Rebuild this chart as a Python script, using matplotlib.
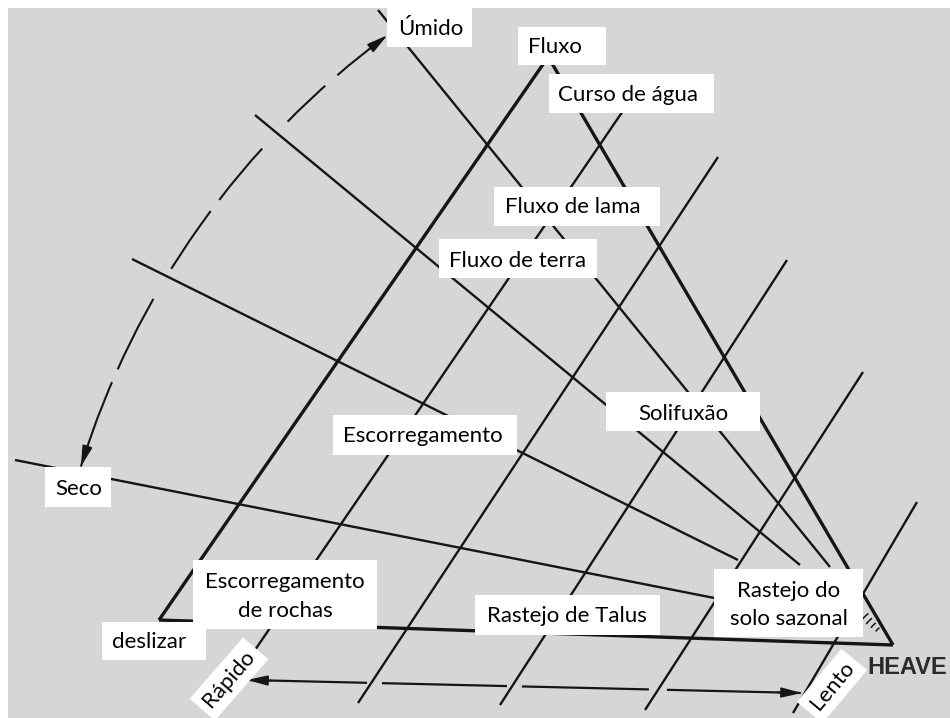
import numpy as np
import matplotlib.pyplot as plt
from matplotlib.patches import Rectangle, Arc

plt.rcParams['font.family'] = ['Lato', 'DejaVu Sans']
plt.rcParams['lines.scale_dashes'] = False

# coordenadas em pixels da figura original (y cresce para baixo)
W, H = 950, 718
cor_fundo = '#d6d6d6'
cor_linha = '#151515'

# lados do triangulo (deslizar - fluxo - heave)
bordas_ini = [(159, 620), (550, 60), (159, 620)]
bordas_fim = [(546, 60), (893, 645), (893, 645)]

# linhas que sobem para a direita
sobe_ini = [(627, 105), (718, 157), (787, 260), (863, 372), (917, 502)]
sobe_fim = [(255, 650), (358, 703), (500, 705), (645, 710), (793, 713)]

# linhas que descem para a direita
desce_ini = [(378, 10), (255, 115), (132, 259), (15, 460)]
desce_fim = [(830, 567), (800, 565), (738, 560), (760, 607)]

# arco tracejado umido <-> seco
centro_arco = (890, 717)
raio_arco = 847
ang_seco, ang_umido = 197.2, 233.6
tracos_arco = [90, 14, 79, 35, 70, 14, 67, 37, 52, 16, 60, 10]

# seta tracejada rapido <-> lento
seta_ini = (247, 680)
seta_fim = (802, 693)
tracos_seta = [120, 15, 125, 15, 127, 18, 134, 10]

# caixas de texto: (x0, y0, x1, y1)
caixas = [(387, 7, 472, 47), (518, 27, 606, 65), (549, 74, 714, 113),
          (494, 187, 660, 226), (439, 239, 597, 278), (606, 392, 760, 431),
          (333, 415, 517, 455), (45, 467, 111, 507), (193, 560, 377, 629),
          (102, 622, 206, 660), (475, 595, 660, 635), (714, 569, 863, 637)]

# textos simples: (texto, x esquerdo, linha de base)
textos = [("Úmido", 398, 35), ("Fluxo", 528, 53), ("Curso de água", 558, 101),
          ("Fluxo de lama", 505, 213), ("Fluxo de terra", 449, 267),
          ("Solifuxão", 638, 420), ("Escorregamento", 343, 442),
          ("Seco", 55, 495), ("deslizar", 112, 648), ("Rastejo de Talus", 487, 622)]

# textos centrados de duas linhas: (texto, x centro, linha de base)
textos_centro = [("Escorregamento", 285, 588), ("de rochas", 285, 617),
                 ("Rastejo do", 789, 597), ("solo sazonal", 789, 625)]

# textos girados: (texto, x, y, angulo)
textos_girados = [("Rápido", 229, 679, 49), ("Lento", 832, 686, 50)]

fig = plt.figure(figsize=(W / 100, H / 100), dpi=100, facecolor='white')
ax = fig.add_axes([0, 0, 1, 1])
ax.set_xlim(0, W)
ax.set_ylim(H, 0)
ax.axis('off')

ax.add_patch(Rectangle((8, 8), W - 8, H - 8, fc=cor_fundo, ec='none', zorder=0))

# linhas
for (x0, y0), (x1, y1) in zip(bordas_ini, bordas_fim):
    ax.plot([x0, x1], [y0, y1], color=cor_linha, lw=2.4, solid_capstyle='butt', zorder=2)
for (x0, y0), (x1, y1) in zip(sobe_ini, sobe_fim):
    ax.plot([x0, x1], [y0, y1], color=cor_linha, lw=1.7, solid_capstyle='butt', zorder=2)
for (x0, y0), (x1, y1) in zip(desce_ini, desce_fim):
    ax.plot([x0, x1], [y0, y1], color=cor_linha, lw=1.7, solid_capstyle='butt', zorder=2)

# marcas perto do vertice heave
for r in [22, 28, 34, 40]:
    ax.add_patch(Arc((893, 645), 2 * r, 2 * r, theta1=218, theta2=232,
                     color=cor_linha, lw=1.1, zorder=2))

# arco tracejado
arco = Arc(centro_arco, 2 * raio_arco, 2 * raio_arco, theta1=ang_seco, theta2=ang_umido,
           color=cor_linha, lw=1.5, zorder=2)
arco.set_linestyle((0, [t * 0.72 for t in tracos_arco]))
ax.add_patch(arco)


def ponto_arco(ang):
    a = np.radians(ang)
    return (centro_arco[0] + raio_arco * np.cos(a), centro_arco[1] + raio_arco * np.sin(a))


estilo_ponta = dict(arrowstyle='-|>,head_length=0.9,head_width=0.22', color=cor_linha,
                    lw=1.2, shrinkA=0, shrinkB=0, mutation_scale=14)
ax.annotate('', xy=ponto_arco(ang_seco), xytext=ponto_arco(ang_seco + 1.5),
            arrowprops=estilo_ponta, zorder=3)
ax.annotate('', xy=ponto_arco(ang_umido), xytext=ponto_arco(ang_umido - 1.5),
            arrowprops=estilo_ponta, zorder=3)

# seta tracejada inferior
ax.plot([seta_ini[0], seta_fim[0]], [seta_ini[1], seta_fim[1]], color=cor_linha, lw=1.6,
        dashes=[t * 0.72 for t in tracos_seta], zorder=2)
ax.annotate('', xy=seta_ini, xytext=(seta_ini[0] + 25, seta_ini[1] + 0.6),
            arrowprops=estilo_ponta, zorder=3)
ax.annotate('', xy=seta_fim, xytext=(seta_fim[0] - 25, seta_fim[1] - 0.6),
            arrowprops=estilo_ponta, zorder=3)

# caixas brancas
for x0, y0, x1, y1 in caixas:
    ax.add_patch(Rectangle((x0, y0), x1 - x0, y1 - y0, fc='white', ec='none', zorder=4))

for txt, x, y in textos:
    ax.text(x, y, txt, fontsize=16, ha='left', va='baseline', color='black', zorder=5)
for txt, x, y in textos_centro:
    ax.text(x, y, txt, fontsize=16, ha='center', va='baseline', color='black', zorder=5)
for txt, x, y, ang in textos_girados:
    ax.text(x, y, txt, fontsize=16, ha='center', va='center', rotation=ang,
            rotation_mode='anchor', color='black', zorder=5,
            bbox=dict(boxstyle='square,pad=0.3', fc='white', ec='none'))

ax.text(867, 674, "HEAVE", fontsize=17, family='Liberation Sans', fontweight='bold',
        ha='left', va='baseline', color='#2a2a2a', zorder=5)

fig.savefig('out.png', dpi=100, facecolor='white')
